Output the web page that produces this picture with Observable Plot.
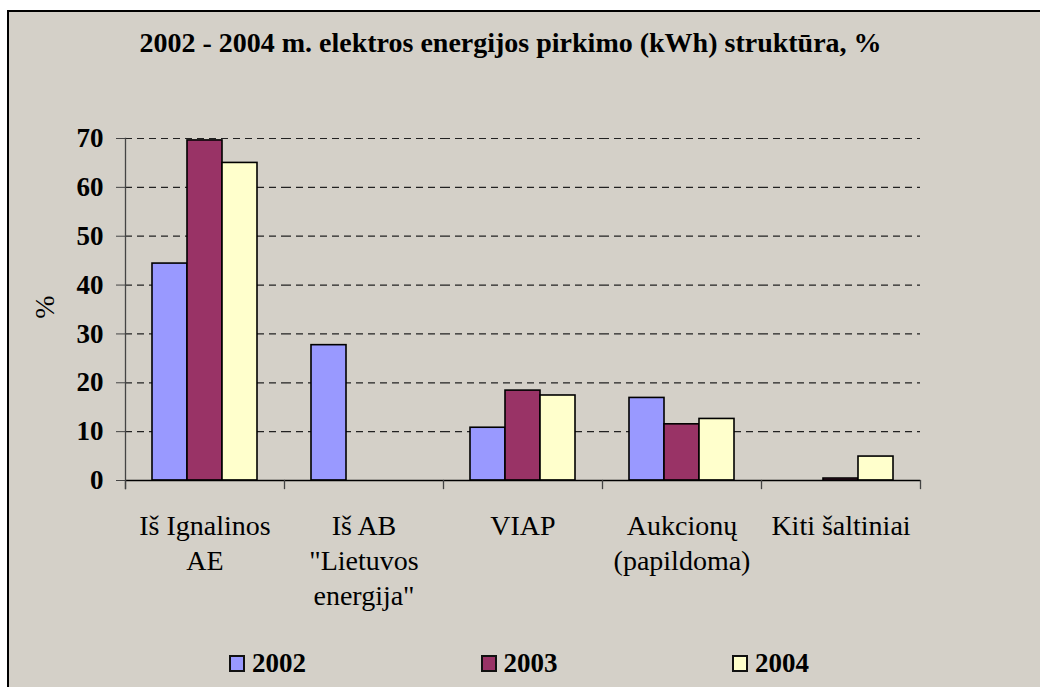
<!DOCTYPE html>
<html>
<head>
<meta charset="utf-8">
<script src="https://cdn.jsdelivr.net/npm/d3@7"></script>
<script src="https://cdn.jsdelivr.net/npm/@observablehq/plot@0.6"></script>
<style>
  html, body { margin: 0; padding: 0; background: #fff; width: 1040px; height: 687px; overflow: hidden; }
  #frame { position: absolute; left: 7px; top: 10px; width: 1045px; height: 700px; box-sizing: border-box;
           border: 2px solid #000; background: #D4D0C8; }
  #title { position: absolute; left: 0; width: 1021px; top: 29px; text-align: center; color: #000; white-space: nowrap; }
  #plot { position: absolute; left: 0; top: 90px; }
  #ylabel { position: absolute; left: 45px; top: 307px; transform: translate(-50%, -50%) rotate(-90deg); color: #000; }
  #legend { position: absolute; left: 229px; top: 650px; }
  .item { position: absolute; top: 0; white-space: nowrap; }
  .sw { position: absolute; top: 5px; left: 0; width: 12px; height: 13px; border: 2px solid #111; }
  .lt { position: absolute; top: 0; left: 23px; }
</style>
</head>
<body>
<div id="frame"></div>
<div id="title" style="font-family:'Liberation Serif';font-weight:bold;font-size:28px;line-height:28px">2002 - 2004 m. elektros energijos pirkimo (kWh) struktūra, %</div>
<div id="ylabel" style="font-family:'Liberation Serif';font-size:28px;line-height:28px">%</div>
<div id="plot"></div>
<div id="legend" style="font-family:'Liberation Serif';font-weight:bold;font-size:27px;line-height:27px"></div>
<script>
const categories = ["Iš Ignalinos\nAE", "Iš AB\n\"Lietuvos\nenergija\"", "VIAP", "Aukcionų\n(papildoma)", "Kiti šaltiniai"];
const years = ["2002", "2003", "2004"];
const values2002 = [44.4, 27.7, 10.8, 16.9, 0];
const values2003 = [69.6, 0, 18.4, 11.5, 0.4];
const values2004 = [65.0, 0, 17.4, 12.6, 4.9];
const colors = ["#9999FF", "#993366", "#FFFFCC"];
const yTicks = [0, 10, 20, 30, 40, 50, 60, 70];

const series = [values2002, values2003, values2004];
const data = [];
categories.forEach((c, i) => years.forEach((y, j) => data.push({cat: c, year: y, value: series[j][i]})));

const FONT = "Liberation Serif";
const plot = Plot.plot({
  width: 1040,
  height: 540,
  marginLeft: 124,
  marginRight: 119,
  marginTop: 48,
  marginBottom: 150,
  style: {background: "transparent", color: "#000", overflow: "visible"},
  fx: {domain: categories, padding: 0},
  x: {domain: years, paddingInner: 0, paddingOuter: 0.745, axis: null},
  y: {domain: [0, 70]},
  color: {domain: years, range: colors},
  marks: [
    Plot.gridY(yTicks.filter(d => d > 0), {stroke: "#222", strokeOpacity: 1, strokeWidth: 1.2, strokeDasharray: "7,5"}),
    Plot.barY(data, {fx: "cat", x: "year", y: "value", fill: "year", stroke: "#000", strokeWidth: 1.6}),
    Plot.ruleY([0], {stroke: "#000", strokeWidth: 1.5}),
    Plot.frame({anchor: "left", facetAnchor: "left", insetBottom: -8, stroke: "#444", strokeWidth: 1.3}),
    Plot.frame({anchor: "left", insetTop: 342, insetBottom: -8, stroke: "#444", strokeWidth: 1.3}),
    Plot.frame({anchor: "right", facetAnchor: "right", insetTop: 342, insetBottom: -8, stroke: "#444", strokeWidth: 1.3}),
    Plot.axisY(yTicks, {tickSize: 9, tickPadding: 13, fontSize: 27, fontWeight: "bold", label: null, stroke: "#444", fill: "#000"}),
    Plot.axisFx({anchor: "bottom", tickSize: 0, tickPadding: 30, fontSize: 28, lineHeight: 1.25, label: null, fill: "#000"})
  ]
});
plot.querySelectorAll("text, g").forEach(el => el.setAttribute("font-family", FONT));
plot.querySelectorAll("text").forEach(el => el.style.setProperty("font-family", "'Liberation Serif'", "important"));
document.getElementById("plot").appendChild(plot);

const legend = document.getElementById("legend");
years.forEach((y, j) => {
  const item = document.createElement("div");
  item.className = "item";
  item.style.left = (j * 251.5) + "px";
  const sw = document.createElement("div");
  sw.className = "sw";
  sw.style.background = colors[j];
  const t = document.createElement("div");
  t.className = "lt";
  t.textContent = y;
  item.appendChild(sw);
  item.appendChild(t);
  legend.appendChild(item);
});
</script>
</body>
</html>
